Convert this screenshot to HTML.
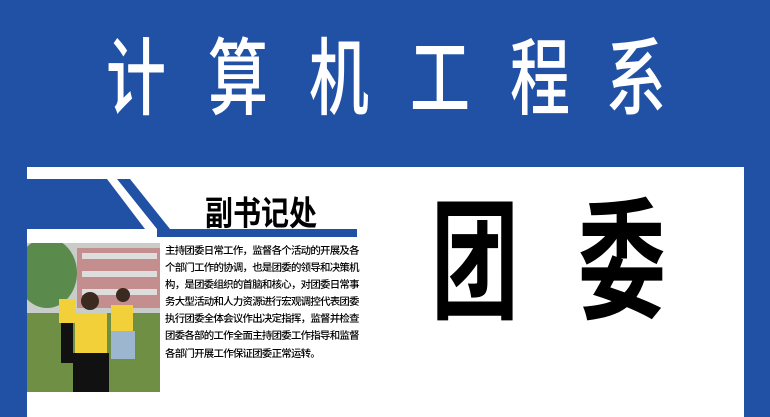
<!DOCTYPE html>
<html><head><meta charset="utf-8"><style>
body{margin:0;width:770px;height:417px;overflow:hidden;background:#2151a4;position:relative;font-family:"Liberation Sans","Noto Sans CJK SC",sans-serif}
.t{position:absolute;color:#fff;font-size:60px;font-weight:500;top:38px;width:60px;text-align:center;transform:scaleY(1.4);transform-origin:top;line-height:60px}
.panel{position:absolute;left:27px;top:167px;width:717px;height:250px;background:#fff}
.txt{position:absolute;left:165px;top:243px;white-space:nowrap;font-size:10.4px;line-height:17.1px;color:#000;letter-spacing:-0.7px;font-weight:500}
.big{position:absolute;top:196px;font-size:88px;font-weight:bold;color:#000;line-height:90px;transform:scaleY(1.5);transform-origin:top}
</style></head><body>
<div class="t" style="left:106px">计</div>
<div class="t" style="left:208px">算</div>
<div class="t" style="left:309px">机</div>
<div class="t" style="left:410px">工</div>
<div class="t" style="left:510px">程</div>
<div class="t" style="left:606px">系</div>
<div class="panel"></div>
<svg style="position:absolute;left:0;top:0" width="770" height="417">
<polygon points="27,179 107,179 145,229 27,229" fill="#2151a4"/>
<polygon points="117,179 130,179 170,229 157,229" fill="#2151a4"/>
<rect x="157" y="229" width="200" height="8" fill="#2151a4"/>
</svg>
<div style="position:absolute;left:205px;top:188px;font-size:28px;font-weight:bold;letter-spacing:0px;transform:scaleY(1.2);transform-origin:top">副书记处</div>
<svg style="position:absolute;left:27px;top:243px" width="133" height="149">
<rect width="133" height="80" fill="#c9cdc9"/>
<rect x="50" y="5" width="83" height="60" fill="#c48e8e"/>
<rect x="55" y="10" width="75" height="6" fill="#ddd"/><rect x="55" y="28" width="75" height="6" fill="#ddd"/><rect x="55" y="46" width="75" height="6" fill="#ddd"/>
<ellipse cx="20" cy="30" rx="30" ry="35" fill="#5a8a4c"/>
<rect y="70" width="133" height="79" fill="#6f8f45"/>
<rect x="32" y="56" width="16" height="24" fill="#f2d03a"/><rect x="34" y="80" width="12" height="40" fill="#111"/>
<rect x="84" y="62" width="22" height="26" fill="#f2d03a"/><rect x="84" y="88" width="24" height="28" fill="#9cb6d0"/>
<circle cx="96" cy="52" r="7" fill="#3a2a20"/><circle cx="63" cy="58" r="9" fill="#3a2a20"/>
<rect x="48" y="70" width="32" height="40" fill="#f2d03a"/><rect x="46" y="110" width="36" height="39" fill="#111"/>
</svg>
<div class="txt">主持团委日常工作，监督各个活动的开展及各<br>个部门工作的协调，也是团委的领导和决策机<br>构，是团委组织的首脑和核心，对团委日常事<br>务大型活动和人力资源进行宏观调控代表团委<br>执行团委全体会议作出决定指挥，监督并检查<br>团委各部的工作全面主持团委工作指导和监督<br>各部门开展工作保证团委正常运转。</div>
<div class="big" style="left:431px">团</div>
<div class="big" style="left:578px">委</div>
</body></html>
